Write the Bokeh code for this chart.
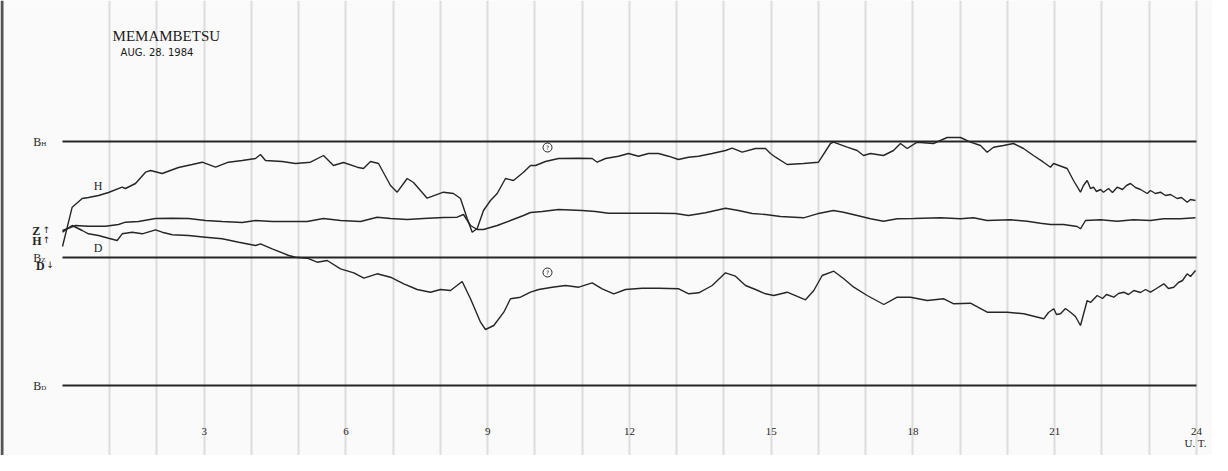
from bokeh.plotting import figure
from bokeh.models import Range1d, Grid, FixedTicker
from bokeh.core.properties import value
from bokeh.embed import file_html
from bokeh.resources import INLINE

# ---- data (hours UT, trace offset above the D baseline) ----
h_hour = [0.0, 0.205, 0.417, 0.550, 0.762, 0.974, 1.263, 1.333, 1.545, 1.757, 1.862, 2.110, 2.455, 2.745,
          2.957, 3.238, 3.513, 3.803, 4.085, 4.190, 4.296, 4.650, 4.931, 5.249, 5.524, 5.735, 5.947, 6.237,
          6.370, 6.519, 6.688, 6.942, 7.084, 7.295, 7.429, 7.718, 8.063, 8.275, 8.423, 8.565, 8.671, 8.777,
          8.910, 9.058, 9.200, 9.376, 9.545, 9.757, 9.905, 10.011, 10.222, 10.497, 10.921, 11.210, 11.316,
          11.492, 11.767, 11.979, 12.190, 12.402, 12.614, 12.825, 13.037, 13.249, 13.460, 13.750, 14.032,
          14.173, 14.385, 14.667, 14.878, 14.984, 15.090, 15.337, 15.683, 16.000, 16.254, 16.317, 16.607,
          16.819, 16.952, 17.101, 17.376, 17.587, 17.735, 17.877, 18.089, 18.434, 18.724, 19.005, 19.217,
          19.429, 19.570, 19.704, 19.915, 20.127, 20.339, 20.550, 20.762, 20.910, 20.974, 21.263, 21.397,
          21.545, 21.608, 21.687, 21.757, 21.820, 21.884, 21.968, 22.032, 22.138, 22.222, 22.322, 22.434,
          22.519, 22.603, 22.709, 22.815, 22.957, 23.026, 23.132, 23.238, 23.344, 23.450, 23.591, 23.683,
          23.803, 23.873, 23.979]
h_val = [139, 178.3, 187, 188, 190, 193, 198.3, 197, 202, 213.3, 215, 212, 218, 221,
         223.3, 218.3, 223.3, 225, 227, 231, 225, 224, 222, 223.3, 230, 220, 223, 218.3,
         217, 224, 222, 200, 193.3, 207, 203, 187.3, 193.3, 192, 187, 167, 153.3, 157,
         175, 185, 192, 207, 205, 213.3, 220, 220, 224, 227, 227.3, 227, 223.3,
         227, 229.3, 232, 229.3, 232, 232, 229.3, 226, 228.3, 229.3, 232, 235,
         237.3, 233.3, 237, 237, 232, 228.3, 221, 222, 223.3, 242, 243.3, 238.3,
         235, 230, 232, 230, 235, 242, 237, 243.3, 242, 248, 248, 243.3,
         240, 233.3, 238.3, 240, 242, 237, 230, 223.3, 218.3, 222, 217, 205,
         193.3, 200, 205, 197, 198.3, 194, 196, 193.3, 197, 193, 198.3, 196,
         200, 202, 198, 196, 192, 195, 192, 193.3, 190, 191, 187, 188,
         183.3, 186, 185]

z_hour = [0.0, 0.275, 0.550, 0.910, 1.185, 1.333, 1.608, 1.968, 2.322, 2.667, 3.026, 3.380, 3.803, 4.085,
          4.438, 4.931, 5.179, 5.524, 5.884, 6.307, 6.660, 6.942, 7.295, 7.640, 8.063, 8.353, 8.487, 8.635,
          8.777, 8.910, 9.200, 9.481, 9.757, 9.905, 10.152, 10.497, 10.999, 11.280, 11.556, 12.057, 12.614,
          12.974, 13.249, 13.608, 14.032, 14.307, 14.597, 14.878, 15.196, 15.683, 15.973, 16.317, 16.529,
          16.819, 17.101, 17.376, 17.666, 18.011, 18.582, 19.005, 19.280, 19.570, 20.063, 20.417, 20.698,
          20.910, 21.185, 21.475, 21.545, 21.651, 21.968, 22.322, 22.667, 23.026, 23.302, 23.661, 23.979]
z_val = [155, 160, 159.3, 159.3, 161, 163.3, 164, 167, 167.3, 167, 165, 164, 163, 165,
         164, 164, 164, 167, 165, 164, 168.3, 167, 166, 167, 168, 168.3, 171, 160,
         156, 156, 160, 165, 170, 173, 174, 176, 175, 174, 172.3, 172.3, 172.3,
         172, 170, 172.7, 177.3, 175, 172, 171, 169, 167.7, 171.7, 175, 173.3,
         170, 166.7, 164.3, 166.7, 167, 167.7, 166.7, 167.7, 165, 165.7, 164.3, 162.3,
         161, 161, 159, 156.7, 165, 165.7, 164.3, 165.7, 165, 166.7, 166.7, 167.7]

d_hour = [0.0, 0.205, 0.417, 0.550, 0.762, 0.974, 1.157, 1.263, 1.475, 1.687, 1.968, 2.110, 2.322, 2.667,
          3.026, 3.380, 3.731, 4.085, 4.190, 4.438, 4.789, 4.931, 5.179, 5.390, 5.602, 5.884, 6.165, 6.377,
          6.660, 6.942, 7.223, 7.507, 7.788, 8.000, 8.212, 8.459, 8.635, 8.847, 8.952, 9.128, 9.340, 9.481,
          9.693, 9.905, 10.080, 10.364, 10.646, 10.927, 11.210, 11.422, 11.668, 11.915, 12.269, 12.620,
          13.043, 13.255, 13.467, 13.750, 14.032, 14.243, 14.455, 14.667, 14.878, 15.054, 15.337, 15.725,
          15.901, 16.078, 16.324, 16.535, 16.747, 17.030, 17.382, 17.666, 17.947, 18.301, 18.652, 18.864,
          19.217, 19.570, 19.993, 20.345, 20.768, 20.868, 20.980, 21.037, 21.122, 21.227, 21.333, 21.439,
          21.545, 21.687, 21.757, 21.899, 22.011, 22.095, 22.250, 22.349, 22.461, 22.561, 22.673, 22.815,
          22.921, 23.026, 23.153, 23.308, 23.407, 23.520, 23.619, 23.704, 23.803, 23.873, 23.979]
d_val = [153.3, 160, 155, 151.7, 150, 147.3, 145, 151.7, 153.3, 151.7, 155.7, 153.3, 150.7, 150,
         148.3, 146.7, 143.3, 140, 141.7, 136.7, 130, 128.3, 127.3, 123.3, 125, 116.7, 112.7, 107.3,
         111.7, 108.3, 101.7, 96, 93.3, 96, 95, 104, 86.7, 63.3, 56, 60, 73.3, 86.7,
         88.3, 93.3, 96, 98.3, 100, 98.3, 102.7, 96.7, 91.7, 96, 97.3, 97.3,
         96.7, 91.7, 92.7, 100, 112.7, 109.3, 100, 96, 91.7, 90, 93.3, 85.7,
         95, 110, 114.3, 106.7, 98.3, 90, 81, 88.3, 88.3, 85, 86.7, 81.7,
         82.3, 73.3, 73.3, 71.7, 66.7, 73, 76.7, 71, 71.7, 77, 73.3, 69,
         60, 85, 83, 90, 87, 91, 88.3, 92, 93.3, 91, 95, 93,
         96, 93.3, 97, 101.7, 97, 98.3, 103, 105, 111.7, 109, 115]

baseline_names = ["B", "B", "B"]
baseline_subs = ["H", "Z", "D"]
baseline_vals = [244, 128, 0]
hour_ticks = [3, 6, 9, 12, 15, 18, 21, 24]
hour_labels = ["3", "6", "9", "12", "15", "18", "21", "24"]
grid_hours = list(range(1, 25))

INK = "#262626"
SERIF = value("Liberation Serif")

p = figure(width=1212, height=455, output_backend="svg", toolbar_location=None,
           x_range=Range1d(-1.3122, 24.339), y_range=Range1d(-70, 385),
           x_axis_type=None, y_axis_type=None, min_border=0)
p.background_fill_color = "#fafafa"
p.border_fill_color = "#fafafa"
p.outline_line_color = None
p.add_layout(Grid(dimension=0, ticker=FixedTicker(ticks=grid_hours),
                  grid_line_color="#dcdcdc", grid_line_width=2))

# left edge of the sheet
p.line([-1.28, -1.28], [-70, 385], line_color="#555555", line_width=3)

# baselines
for v in baseline_vals:
    p.line([0, 24], [v, v], line_color=INK, line_width=1.8)

# traces
p.line(h_hour, h_val, line_color=INK, line_width=1.4)
p.line(z_hour, z_val, line_color=INK, line_width=1.4)
p.line(d_hour, d_val, line_color=INK, line_width=1.4)

# baseline labels
p.text(x=[-0.62] * 3, y=baseline_vals, text=baseline_names, text_font=SERIF,
       text_font_size="12px", text_align="left", text_baseline="middle", text_color=INK)
p.text(x=[-0.45] * 3, y=[v - 2 for v in baseline_vals], text=baseline_subs, text_font=SERIF,
       text_font_size="7px", text_align="left", text_baseline="middle", text_color=INK)
# sensitivity arrows labels
p.text(x=[-0.64, -0.64, -0.56], y=[155, 145, 120], text=["Z", "H", "D"], text_font=SERIF,
       text_font_size="12px", text_font_style="bold", text_align="left", text_baseline="middle",
       text_color=INK)
p.text(x=[-0.42, -0.42, -0.34], y=[156, 146, 121], text=["↑", "↑", "↓"], text_font=value("DejaVu Sans"),
       text_font_size="9px", text_align="left", text_baseline="middle", text_color=INK)

# trace names
p.text(x=[0.66, 0.66], y=[200, 138], text=["H", "D"], text_font=SERIF, text_font_size="12px",
       text_align="left", text_baseline="middle", text_color=INK)

# circled marks
p.scatter(x=[10.265, 10.265], y=[238, 113], size=9, marker="circle", fill_color=None,
          line_color=INK, line_width=1)
p.text(x=[10.265, 10.265], y=[238, 113], text=["?", "?"], text_font=value("DejaVu Sans"),
       text_font_size="6px", text_align="center", text_baseline="middle", text_color=INK)

# title
p.text(x=[1.06], y=[350], text=["MEMAMBETSU"], text_font=SERIF, text_font_size="15px",
       text_align="left", text_baseline="middle", text_color="#1a1a1a")
p.text(x=[1.23], y=[333], text=["AUG. 28. 1984"], text_font=value("DejaVu Sans"),
       text_font_size="10px", text_align="left", text_baseline="middle", text_color="#1a1a1a")

# hour labels
p.text(x=hour_ticks, y=[-46] * len(hour_ticks), text=hour_labels, text_font=SERIF,
       text_font_size="11px", text_align="center", text_baseline="middle", text_color=INK)
p.text(x=[23.98], y=[-57], text=["U. T."], text_font=SERIF, text_font_size="11px",
       text_align="center", text_baseline="middle", text_color=INK)

open("out.html", "w").write(file_html(p, INLINE))
